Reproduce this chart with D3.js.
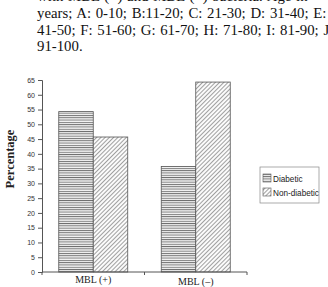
<!DOCTYPE html>
<html>
<head>
<meta charset="utf-8">
<script src="https://cdn.jsdelivr.net/npm/d3@7"></script>
<style>
  body { margin: 0; background: #fff; overflow: hidden; }
  .caption { position: absolute; left: 37px; top: -12px; white-space: nowrap; font-family: "Liberation Serif", "DejaVu Serif", serif; font-size: 14.8px; line-height: 16.8px; word-spacing: 1px; color: #111; }
  svg { position: absolute; left: 0; top: 0; }
</style>
</head>
<body>
<div class="caption">with MBL (+) and MBL (&minus;) bacteria. Age in<br>years; A: 0-10; B:11-20; C: 21-30; D: 31-40; E:<br>41-50; F: 51-60; G: 61-70; H: 71-80; I: 81-90; J:<br>91-100.</div>
<div id="chart"></div>
<script>
// chart data
const categories = ['MBL (+)', 'MBL (\u2013)'];
const seriesNames = ['Diabetic', 'Non-diabetic'];
const diabetic = [54.3, 35.7];
const nonDiabetic = [45.7, 64.3];
const yTicks = [0, 5, 10, 15, 20, 25, 30, 35, 40, 45, 50, 55, 60, 65];

const width = 328, height = 287;
const plot = { left: 42, right: 247, top: 80, bottom: 272 };

const svg = d3.select('#chart').append('svg')
    .attr('width', width)
    .attr('height', height);

// patterns
const defs = svg.append('defs');
const horiz = defs.append('pattern')
    .attr('id', 'pat-horiz')
    .attr('patternUnits', 'userSpaceOnUse')
    .attr('width', 4).attr('height', 2.3);
horiz.append('rect').attr('width', 4).attr('height', 2.3).attr('fill', '#f2f2f2');
horiz.append('rect').attr('y', 0).attr('width', 4).attr('height', 0.9).attr('fill', '#6e6e6e');

const diag = defs.append('pattern')
    .attr('id', 'pat-diag')
    .attr('patternUnits', 'userSpaceOnUse')
    .attr('width', 3).attr('height', 3)
    .attr('patternTransform', 'rotate(45)');
diag.append('rect').attr('width', 3).attr('height', 3).attr('fill', '#fbfbfb');
diag.append('rect').attr('width', 0.8).attr('height', 3).attr('fill', '#8a8a8a');

const fills = ['url(#pat-horiz)', 'url(#pat-diag)'];
const values = [diabetic, nonDiabetic];

// scales
const x = d3.scaleBand()
    .domain(categories)
    .range([plot.left, plot.right])
    .paddingInner(0.327)
    .paddingOuter(0.1635);
const step = x.step();
const inner = d3.scaleBand()
    .domain(seriesNames)
    .range([0, x.bandwidth()]);
const y = d3.scaleLinear()
    .domain([0, 65])
    .range([plot.bottom, plot.top]);

// bars
categories.forEach((cat, ci) => {
    seriesNames.forEach((s, si) => {
        svg.append('rect')
            .attr('x', x(cat) + inner(s))
            .attr('y', y(values[si][ci]))
            .attr('width', inner.bandwidth())
            .attr('height', y(0) - y(values[si][ci]))
            .attr('fill', fills[si])
            .attr('stroke', '#555')
            .attr('stroke-width', 0.8);
    });
});

// y axis
const yAxis = svg.append('g')
    .attr('transform', `translate(${plot.left},0)`)
    .call(d3.axisLeft(y).tickValues(yTicks).tickSize(4).tickPadding(3));
yAxis.select('.domain').attr('stroke', '#555');
yAxis.selectAll('.tick line').attr('stroke', '#555');
yAxis.selectAll('text')
    .attr('font-family', 'Arial, "Liberation Sans", sans-serif')
    .attr('font-size', '7px')
    .attr('fill', '#333');

// x axis baseline with boundary ticks
svg.append('line')
    .attr('x1', plot.left).attr('x2', plot.right)
    .attr('y1', y(0)).attr('y2', y(0))
    .attr('stroke', '#555');
[plot.left, plot.left + step, plot.right].forEach(tx => {
    svg.append('line')
        .attr('x1', tx).attr('x2', tx)
        .attr('y1', y(0)).attr('y2', y(0) + 3)
        .attr('stroke', '#555');
});
svg.selectAll('.xlab')
    .data(categories)
    .enter()
    .append('text')
    .attr('class', 'xlab')
    .attr('x', d => x(d) + x.bandwidth() / 2)
    .attr('y', (d, i) => y(0) + 11 + i * 2)
    .attr('text-anchor', 'middle')
    .attr('font-family', '"Liberation Serif", "DejaVu Serif", serif')
    .attr('font-size', '10px')
    .attr('fill', '#222')
    .text(d => d);

// y label
svg.append('text')
    .attr('transform', `translate(14,${(plot.top + plot.bottom) / 2 - 17}) rotate(-90)`)
    .attr('text-anchor', 'middle')
    .attr('font-family', '"Liberation Serif", "DejaVu Serif", serif')
    .attr('font-weight', 'bold')
    .attr('font-size', '12.5px')
    .attr('fill', '#222')
    .text('Percentage');

// legend
const legend = svg.append('g').attr('transform', 'translate(260,167)');
legend.append('rect')
    .attr('width', 59).attr('height', 36)
    .attr('fill', '#fff')
    .attr('stroke', '#888')
    .attr('stroke-width', 0.7);
seriesNames.forEach((s, i) => {
    legend.append('rect')
        .attr('x', 3).attr('y', 7 + i * 14)
        .attr('width', 8).attr('height', 8)
        .attr('fill', fills[i])
        .attr('stroke', '#555')
        .attr('stroke-width', 0.6);
    legend.append('text')
        .attr('x', 13).attr('y', 14.5 + i * 14)
        .attr('font-family', 'Arial, "Liberation Sans", sans-serif')
        .attr('font-size', '8.2px')
        .attr('fill', '#222')
        .text(s);
});
</script>
</body>
</html>
